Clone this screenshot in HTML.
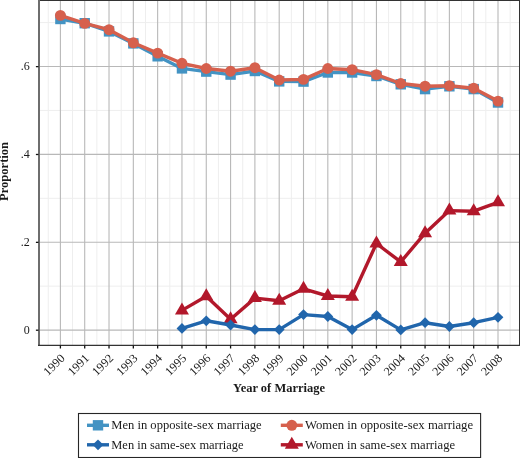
<!DOCTYPE html>
<html lang="en"><head><meta charset="utf-8"><title>Proportion by Year of Marriage</title>
<style>html,body{margin:0;padding:0;background:#fff;}body{width:520px;height:458px;overflow:hidden;}svg{display:block;}</style>
</head><body>
<svg width="520" height="458" viewBox="0 0 520 458">
<rect x="0" y="0" width="520" height="458" fill="#ffffff"/>
<g stroke="#eeeeee" stroke-width="1" fill="none">
<line x1="48.24" y1="0.5" x2="48.24" y2="345.2"/>
<line x1="72.56" y1="0.5" x2="72.56" y2="345.2"/>
<line x1="96.87" y1="0.5" x2="96.87" y2="345.2"/>
<line x1="121.18" y1="0.5" x2="121.18" y2="345.2"/>
<line x1="145.49" y1="0.5" x2="145.49" y2="345.2"/>
<line x1="169.80" y1="0.5" x2="169.80" y2="345.2"/>
<line x1="194.11" y1="0.5" x2="194.11" y2="345.2"/>
<line x1="218.42" y1="0.5" x2="218.42" y2="345.2"/>
<line x1="242.73" y1="0.5" x2="242.73" y2="345.2"/>
<line x1="267.04" y1="0.5" x2="267.04" y2="345.2"/>
<line x1="291.36" y1="0.5" x2="291.36" y2="345.2"/>
<line x1="315.67" y1="0.5" x2="315.67" y2="345.2"/>
<line x1="339.98" y1="0.5" x2="339.98" y2="345.2"/>
<line x1="364.29" y1="0.5" x2="364.29" y2="345.2"/>
<line x1="388.60" y1="0.5" x2="388.60" y2="345.2"/>
<line x1="412.91" y1="0.5" x2="412.91" y2="345.2"/>
<line x1="437.22" y1="0.5" x2="437.22" y2="345.2"/>
<line x1="461.53" y1="0.5" x2="461.53" y2="345.2"/>
<line x1="485.84" y1="0.5" x2="485.84" y2="345.2"/>
<line x1="510.16" y1="0.5" x2="510.16" y2="345.2"/>
<line x1="38.5" y1="286.17" x2="519.0" y2="286.17"/>
<line x1="38.5" y1="198.31" x2="519.0" y2="198.31"/>
<line x1="38.5" y1="110.45" x2="519.0" y2="110.45"/>
<line x1="38.5" y1="22.59" x2="519.0" y2="22.59"/>
</g>
<g stroke="#b8b8b8" stroke-width="1.1" fill="none">
<line x1="60.40" y1="0.5" x2="60.40" y2="345.2"/>
<line x1="84.71" y1="0.5" x2="84.71" y2="345.2"/>
<line x1="109.02" y1="0.5" x2="109.02" y2="345.2"/>
<line x1="133.33" y1="0.5" x2="133.33" y2="345.2"/>
<line x1="157.64" y1="0.5" x2="157.64" y2="345.2"/>
<line x1="181.96" y1="0.5" x2="181.96" y2="345.2"/>
<line x1="206.27" y1="0.5" x2="206.27" y2="345.2"/>
<line x1="230.58" y1="0.5" x2="230.58" y2="345.2"/>
<line x1="254.89" y1="0.5" x2="254.89" y2="345.2"/>
<line x1="279.20" y1="0.5" x2="279.20" y2="345.2"/>
<line x1="303.51" y1="0.5" x2="303.51" y2="345.2"/>
<line x1="327.82" y1="0.5" x2="327.82" y2="345.2"/>
<line x1="352.13" y1="0.5" x2="352.13" y2="345.2"/>
<line x1="376.44" y1="0.5" x2="376.44" y2="345.2"/>
<line x1="400.76" y1="0.5" x2="400.76" y2="345.2"/>
<line x1="425.07" y1="0.5" x2="425.07" y2="345.2"/>
<line x1="449.38" y1="0.5" x2="449.38" y2="345.2"/>
<line x1="473.69" y1="0.5" x2="473.69" y2="345.2"/>
<line x1="498.00" y1="0.5" x2="498.00" y2="345.2"/>
<line x1="38.5" y1="330.10" x2="519.0" y2="330.10"/>
<line x1="38.5" y1="242.24" x2="519.0" y2="242.24"/>
<line x1="38.5" y1="154.38" x2="519.0" y2="154.38"/>
<line x1="38.5" y1="66.52" x2="519.0" y2="66.52"/>
</g>
<g>
<polyline points="60.40,19.00 84.71,23.20 109.02,31.40 133.33,43.40 157.64,56.30 181.96,68.40 206.27,71.60 230.58,74.60 254.89,71.00 279.20,81.40 303.51,81.60 327.82,72.50 352.13,72.50 376.44,76.00 400.76,84.30 425.07,89.10 449.38,86.30 473.69,89.10 498.00,102.50" fill="none" stroke="#4393c3" stroke-width="3.4" stroke-linejoin="round" stroke-linecap="butt"/>
<rect x="55.20" y="13.80" width="10.4" height="10.4" fill="#4393c3"/>
<rect x="79.51" y="18.00" width="10.4" height="10.4" fill="#4393c3"/>
<rect x="103.82" y="26.20" width="10.4" height="10.4" fill="#4393c3"/>
<rect x="128.13" y="38.20" width="10.4" height="10.4" fill="#4393c3"/>
<rect x="152.44" y="51.10" width="10.4" height="10.4" fill="#4393c3"/>
<rect x="176.76" y="63.20" width="10.4" height="10.4" fill="#4393c3"/>
<rect x="201.07" y="66.40" width="10.4" height="10.4" fill="#4393c3"/>
<rect x="225.38" y="69.40" width="10.4" height="10.4" fill="#4393c3"/>
<rect x="249.69" y="65.80" width="10.4" height="10.4" fill="#4393c3"/>
<rect x="274.00" y="76.20" width="10.4" height="10.4" fill="#4393c3"/>
<rect x="298.31" y="76.40" width="10.4" height="10.4" fill="#4393c3"/>
<rect x="322.62" y="67.30" width="10.4" height="10.4" fill="#4393c3"/>
<rect x="346.93" y="67.30" width="10.4" height="10.4" fill="#4393c3"/>
<rect x="371.24" y="70.80" width="10.4" height="10.4" fill="#4393c3"/>
<rect x="395.56" y="79.10" width="10.4" height="10.4" fill="#4393c3"/>
<rect x="419.87" y="83.90" width="10.4" height="10.4" fill="#4393c3"/>
<rect x="444.18" y="81.10" width="10.4" height="10.4" fill="#4393c3"/>
<rect x="468.49" y="83.90" width="10.4" height="10.4" fill="#4393c3"/>
<rect x="492.80" y="97.30" width="10.4" height="10.4" fill="#4393c3"/>
</g><g>
<polyline points="60.40,15.40 84.71,23.40 109.02,29.70 133.33,42.80 157.64,53.10 181.96,63.30 206.27,68.50 230.58,71.20 254.89,67.70 279.20,80.00 303.51,79.40 327.82,68.50 352.13,69.70 376.44,74.60 400.76,83.50 425.07,86.20 449.38,85.70 473.69,88.20 498.00,101.10" fill="none" stroke="#d6604d" stroke-width="3.4" stroke-linejoin="round" stroke-linecap="butt"/>
<circle cx="60.40" cy="15.40" r="5.45" fill="#d6604d"/>
<circle cx="84.71" cy="23.40" r="5.45" fill="#d6604d"/>
<circle cx="109.02" cy="29.70" r="5.45" fill="#d6604d"/>
<circle cx="133.33" cy="42.80" r="5.45" fill="#d6604d"/>
<circle cx="157.64" cy="53.10" r="5.45" fill="#d6604d"/>
<circle cx="181.96" cy="63.30" r="5.45" fill="#d6604d"/>
<circle cx="206.27" cy="68.50" r="5.45" fill="#d6604d"/>
<circle cx="230.58" cy="71.20" r="5.45" fill="#d6604d"/>
<circle cx="254.89" cy="67.70" r="5.45" fill="#d6604d"/>
<circle cx="279.20" cy="80.00" r="5.45" fill="#d6604d"/>
<circle cx="303.51" cy="79.40" r="5.45" fill="#d6604d"/>
<circle cx="327.82" cy="68.50" r="5.45" fill="#d6604d"/>
<circle cx="352.13" cy="69.70" r="5.45" fill="#d6604d"/>
<circle cx="376.44" cy="74.60" r="5.45" fill="#d6604d"/>
<circle cx="400.76" cy="83.50" r="5.45" fill="#d6604d"/>
<circle cx="425.07" cy="86.20" r="5.45" fill="#d6604d"/>
<circle cx="449.38" cy="85.70" r="5.45" fill="#d6604d"/>
<circle cx="473.69" cy="88.20" r="5.45" fill="#d6604d"/>
<circle cx="498.00" cy="101.10" r="5.45" fill="#d6604d"/>
</g><g>
<polyline points="181.96,310.40 206.27,296.20 230.58,319.30 254.89,298.10 279.20,300.80 303.51,288.80 327.82,296.00 352.13,296.80 376.44,243.50 400.76,261.90 425.07,233.20 449.38,210.60 473.69,211.20 498.00,202.30" fill="none" stroke="#b2182b" stroke-width="3.4" stroke-linejoin="round" stroke-linecap="butt"/>
<polygon points="181.96,302.40 188.96,314.40 174.96,314.40" fill="#b2182b"/>
<polygon points="206.27,288.20 213.27,300.20 199.27,300.20" fill="#b2182b"/>
<polygon points="230.58,311.30 237.58,323.30 223.58,323.30" fill="#b2182b"/>
<polygon points="254.89,290.10 261.89,302.10 247.89,302.10" fill="#b2182b"/>
<polygon points="279.20,292.80 286.20,304.80 272.20,304.80" fill="#b2182b"/>
<polygon points="303.51,280.80 310.51,292.80 296.51,292.80" fill="#b2182b"/>
<polygon points="327.82,288.00 334.82,300.00 320.82,300.00" fill="#b2182b"/>
<polygon points="352.13,288.80 359.13,300.80 345.13,300.80" fill="#b2182b"/>
<polygon points="376.44,235.50 383.44,247.50 369.44,247.50" fill="#b2182b"/>
<polygon points="400.76,253.90 407.76,265.90 393.76,265.90" fill="#b2182b"/>
<polygon points="425.07,225.20 432.07,237.20 418.07,237.20" fill="#b2182b"/>
<polygon points="449.38,202.60 456.38,214.60 442.38,214.60" fill="#b2182b"/>
<polygon points="473.69,203.20 480.69,215.20 466.69,215.20" fill="#b2182b"/>
<polygon points="498.00,194.30 505.00,206.30 491.00,206.30" fill="#b2182b"/>
</g><g>
<polyline points="181.96,328.40 206.27,320.80 230.58,325.00 254.89,329.60 279.20,329.60 303.51,314.60 327.82,316.50 352.13,329.60 376.44,315.30 400.76,329.90 425.07,322.70 449.38,326.50 473.69,322.70 498.00,317.30" fill="none" stroke="#2166ac" stroke-width="3.4" stroke-linejoin="round" stroke-linecap="butt"/>
<polygon points="181.96,323.00 187.36,328.40 181.96,333.80 176.56,328.40" fill="#2166ac"/>
<polygon points="206.27,315.40 211.67,320.80 206.27,326.20 200.87,320.80" fill="#2166ac"/>
<polygon points="230.58,319.60 235.98,325.00 230.58,330.40 225.18,325.00" fill="#2166ac"/>
<polygon points="254.89,324.20 260.29,329.60 254.89,335.00 249.49,329.60" fill="#2166ac"/>
<polygon points="279.20,324.20 284.60,329.60 279.20,335.00 273.80,329.60" fill="#2166ac"/>
<polygon points="303.51,309.20 308.91,314.60 303.51,320.00 298.11,314.60" fill="#2166ac"/>
<polygon points="327.82,311.10 333.22,316.50 327.82,321.90 322.42,316.50" fill="#2166ac"/>
<polygon points="352.13,324.20 357.53,329.60 352.13,335.00 346.73,329.60" fill="#2166ac"/>
<polygon points="376.44,309.90 381.84,315.30 376.44,320.70 371.04,315.30" fill="#2166ac"/>
<polygon points="400.76,324.50 406.16,329.90 400.76,335.30 395.36,329.90" fill="#2166ac"/>
<polygon points="425.07,317.30 430.47,322.70 425.07,328.10 419.67,322.70" fill="#2166ac"/>
<polygon points="449.38,321.10 454.78,326.50 449.38,331.90 443.98,326.50" fill="#2166ac"/>
<polygon points="473.69,317.30 479.09,322.70 473.69,328.10 468.29,322.70" fill="#2166ac"/>
<polygon points="498.00,311.90 503.40,317.30 498.00,322.70 492.60,317.30" fill="#2166ac"/>
</g>
<g fill="none">
<line x1="38" y1="0.5" x2="520" y2="0.5" stroke="#333" stroke-width="1"/>
<line x1="519.5" y1="0" x2="519.5" y2="346" stroke="#333" stroke-width="1"/>
<line x1="39" y1="0" x2="39" y2="346" stroke="#6e6e6e" stroke-width="2"/>
<line x1="38" y1="345.4" x2="520" y2="345.4" stroke="#333" stroke-width="1.2"/>
</g>
<g stroke="#111" stroke-width="1.3" fill="none">
<line x1="60.40" y1="345.4" x2="60.40" y2="348.5"/>
<line x1="84.71" y1="345.4" x2="84.71" y2="348.5"/>
<line x1="109.02" y1="345.4" x2="109.02" y2="348.5"/>
<line x1="133.33" y1="345.4" x2="133.33" y2="348.5"/>
<line x1="157.64" y1="345.4" x2="157.64" y2="348.5"/>
<line x1="181.96" y1="345.4" x2="181.96" y2="348.5"/>
<line x1="206.27" y1="345.4" x2="206.27" y2="348.5"/>
<line x1="230.58" y1="345.4" x2="230.58" y2="348.5"/>
<line x1="254.89" y1="345.4" x2="254.89" y2="348.5"/>
<line x1="279.20" y1="345.4" x2="279.20" y2="348.5"/>
<line x1="303.51" y1="345.4" x2="303.51" y2="348.5"/>
<line x1="327.82" y1="345.4" x2="327.82" y2="348.5"/>
<line x1="352.13" y1="345.4" x2="352.13" y2="348.5"/>
<line x1="376.44" y1="345.4" x2="376.44" y2="348.5"/>
<line x1="400.76" y1="345.4" x2="400.76" y2="348.5"/>
<line x1="425.07" y1="345.4" x2="425.07" y2="348.5"/>
<line x1="449.38" y1="345.4" x2="449.38" y2="348.5"/>
<line x1="473.69" y1="345.4" x2="473.69" y2="348.5"/>
<line x1="498.00" y1="345.4" x2="498.00" y2="348.5"/>
<line x1="35.9" y1="330.20" x2="38.5" y2="330.20"/>
<line x1="35.9" y1="242.34" x2="38.5" y2="242.34"/>
<line x1="35.9" y1="154.48" x2="38.5" y2="154.48"/>
<line x1="35.9" y1="66.62" x2="38.5" y2="66.62"/>
</g>
<g font-family="'Liberation Serif', serif" fill="#1a1a1a">
<g font-size="12" text-anchor="end">
<text x="29.8" y="334.00">0</text>
<text x="29.8" y="246.14">.2</text>
<text x="29.8" y="158.28">.4</text>
<text x="29.8" y="70.42">.6</text>
</g>
<g font-size="12" text-anchor="end">
<text transform="translate(65.50,358.9) rotate(-45)" x="0" y="0" textLength="24.6" lengthAdjust="spacingAndGlyphs">1990</text>
<text transform="translate(89.81,358.9) rotate(-45)" x="0" y="0" textLength="24.6" lengthAdjust="spacingAndGlyphs">1991</text>
<text transform="translate(114.12,358.9) rotate(-45)" x="0" y="0" textLength="24.6" lengthAdjust="spacingAndGlyphs">1992</text>
<text transform="translate(138.43,358.9) rotate(-45)" x="0" y="0" textLength="24.6" lengthAdjust="spacingAndGlyphs">1993</text>
<text transform="translate(162.74,358.9) rotate(-45)" x="0" y="0" textLength="24.6" lengthAdjust="spacingAndGlyphs">1994</text>
<text transform="translate(187.06,358.9) rotate(-45)" x="0" y="0" textLength="24.6" lengthAdjust="spacingAndGlyphs">1995</text>
<text transform="translate(211.37,358.9) rotate(-45)" x="0" y="0" textLength="24.6" lengthAdjust="spacingAndGlyphs">1996</text>
<text transform="translate(235.68,358.9) rotate(-45)" x="0" y="0" textLength="24.6" lengthAdjust="spacingAndGlyphs">1997</text>
<text transform="translate(259.99,358.9) rotate(-45)" x="0" y="0" textLength="24.6" lengthAdjust="spacingAndGlyphs">1998</text>
<text transform="translate(284.30,358.9) rotate(-45)" x="0" y="0" textLength="24.6" lengthAdjust="spacingAndGlyphs">1999</text>
<text transform="translate(308.61,358.9) rotate(-45)" x="0" y="0" textLength="24.6" lengthAdjust="spacingAndGlyphs">2000</text>
<text transform="translate(332.92,358.9) rotate(-45)" x="0" y="0" textLength="24.6" lengthAdjust="spacingAndGlyphs">2001</text>
<text transform="translate(357.23,358.9) rotate(-45)" x="0" y="0" textLength="24.6" lengthAdjust="spacingAndGlyphs">2002</text>
<text transform="translate(381.54,358.9) rotate(-45)" x="0" y="0" textLength="24.6" lengthAdjust="spacingAndGlyphs">2003</text>
<text transform="translate(405.86,358.9) rotate(-45)" x="0" y="0" textLength="24.6" lengthAdjust="spacingAndGlyphs">2004</text>
<text transform="translate(430.17,358.9) rotate(-45)" x="0" y="0" textLength="24.6" lengthAdjust="spacingAndGlyphs">2005</text>
<text transform="translate(454.48,358.9) rotate(-45)" x="0" y="0" textLength="24.6" lengthAdjust="spacingAndGlyphs">2006</text>
<text transform="translate(478.79,358.9) rotate(-45)" x="0" y="0" textLength="24.6" lengthAdjust="spacingAndGlyphs">2007</text>
<text transform="translate(503.10,358.9) rotate(-45)" x="0" y="0" textLength="24.6" lengthAdjust="spacingAndGlyphs">2008</text>
</g>
<text x="279" y="391.9" font-size="12.4" font-weight="bold" text-anchor="middle" textLength="92" lengthAdjust="spacingAndGlyphs">Year of Marriage</text>
<text transform="translate(8.4,171.4) rotate(-90)" font-size="12" font-weight="bold" text-anchor="middle" textLength="59" lengthAdjust="spacingAndGlyphs">Proportion</text>
<rect x="78.5" y="413.5" width="402.1" height="44" fill="#fff" stroke="#262626" stroke-width="1.1"/>
<line x1="87" y1="425.3" x2="109" y2="425.3" stroke="#4393c3" stroke-width="3.4"/><rect x="92.80" y="420.10" width="10.4" height="10.4" fill="#4393c3"/>
<line x1="87" y1="444.8" x2="109" y2="444.8" stroke="#2166ac" stroke-width="3.4"/><polygon points="98.00,439.40 103.40,444.80 98.00,450.20 92.60,444.80" fill="#2166ac"/>
<line x1="280.8" y1="425.3" x2="302.8" y2="425.3" stroke="#d6604d" stroke-width="3.4"/><circle cx="291.80" cy="425.30" r="5.45" fill="#d6604d"/>
<line x1="280.8" y1="444.8" x2="302.8" y2="444.8" stroke="#b2182b" stroke-width="3.4"/><polygon points="291.80,436.80 298.80,448.80 284.80,448.80" fill="#b2182b"/>
<g font-size="11.5">
<text x="111.3" y="429.2" textLength="150.3" lengthAdjust="spacingAndGlyphs">Men in opposite-sex marriage</text>
<text x="111.3" y="448.8" textLength="132.3" lengthAdjust="spacingAndGlyphs">Men in same-sex marriage</text>
<text x="304.9" y="429.2" textLength="168.2" lengthAdjust="spacingAndGlyphs">Women in opposite-sex marriage</text>
<text x="304.9" y="448.8" textLength="150.2" lengthAdjust="spacingAndGlyphs">Women in same-sex marriage</text>
</g>
</g>
</svg>
</body></html>
